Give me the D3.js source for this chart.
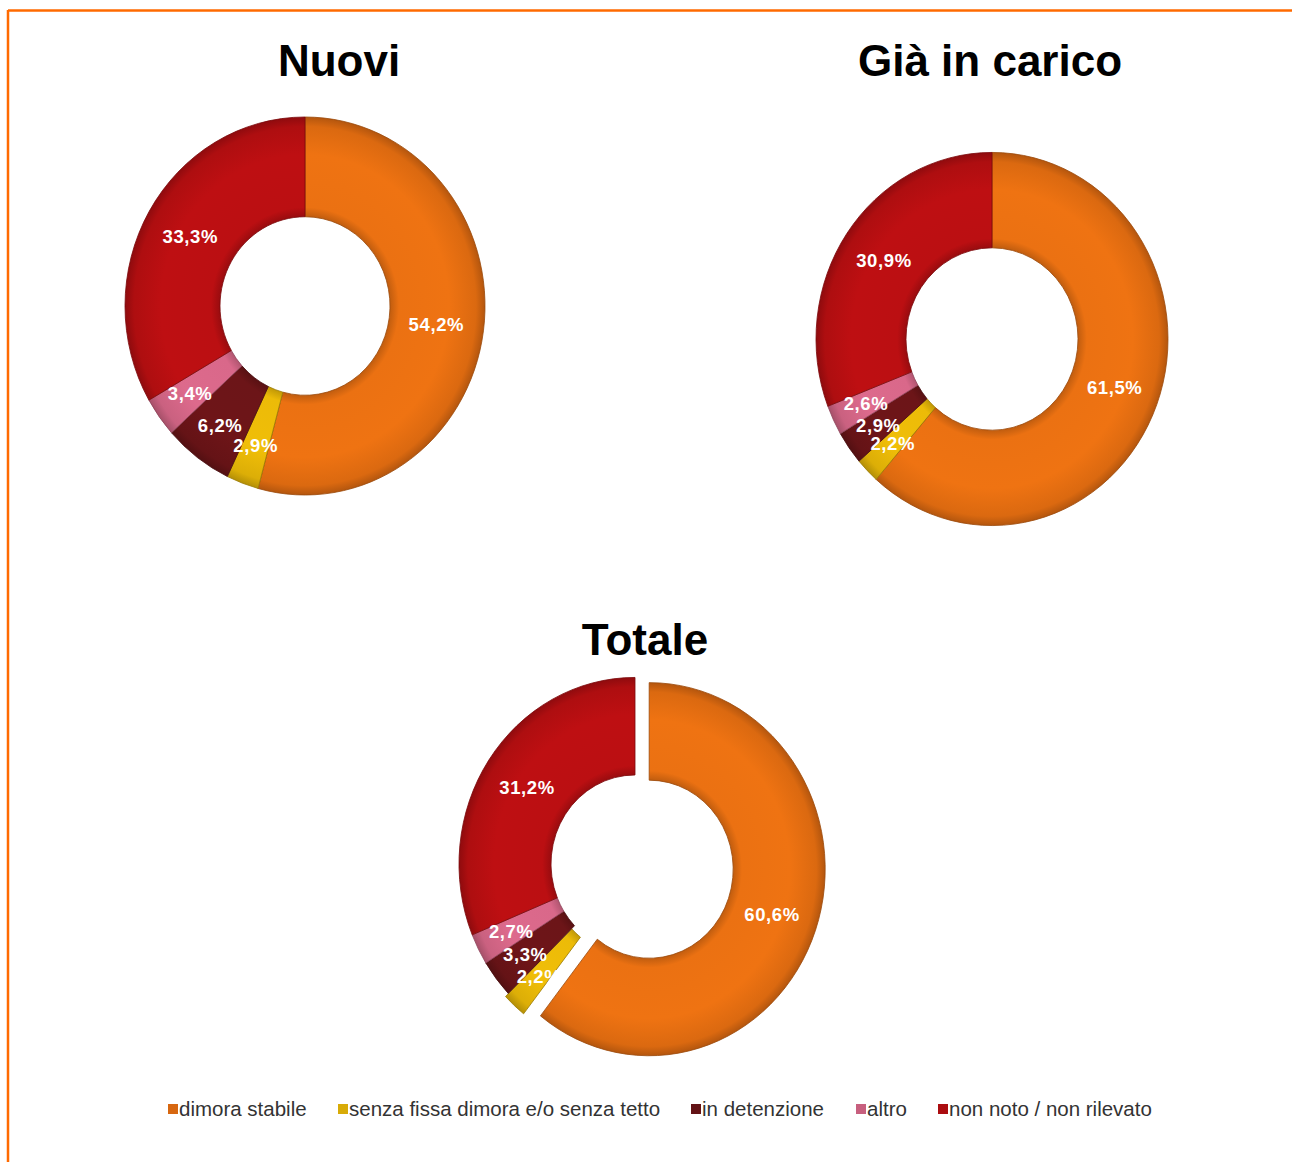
<!DOCTYPE html>
<html>
<head>
<meta charset="utf-8">
<script src="https://cdn.jsdelivr.net/npm/d3@7"></script>
<style>
  html, body { margin: 0; padding: 0; background: #fff; }
  svg { display: block; }
</style>
</head>
<body>
<svg id="chart" width="1292" height="1162"></svg>
<script>
// ---- data ----
const categories = ["dimora stabile", "senza fissa dimora e/o senza tetto", "in detenzione", "altro", "non noto / non rilevato"];
const colors = ["#EF7312", "#F0BE08", "#6E1518", "#DD6A8C", "#BE0F12"];
const chartTitles = ["Nuovi", "Già in carico", "Totale"];
const valuesNuovi = [54.2, 2.9, 6.2, 3.4, 33.3];
const valuesGia = [61.5, 2.2, 2.9, 2.6, 30.9];
const valuesTotale = [60.6, 2.2, 3.3, 2.7, 31.2];

const fmt = v => d3.format(".1f")(v).replace(".", ",") + "%";

const svg = d3.select("#chart");
const defs = svg.append("defs");

// frame lines (top and left)
svg.append("line").attr("x1", 8).attr("x2", 1292).attr("y1", 10.5).attr("y2", 10.5)
  .attr("stroke", "#FF6A00").attr("stroke-width", 2.5);
svg.append("line").attr("x1", 8).attr("x2", 8).attr("y1", 10).attr("y2", 1162)
  .attr("stroke", "#FF6A00").attr("stroke-width", 2.5);

const donuts = [
  { title: chartTitles[0], values: valuesNuovi, cx: 305, cy: 306, ro: 180, ri: 85, sy: 1.05, tx: 339, ty: 76, explode: [0, 0, 0, 0, 0] },
  { title: chartTitles[1], values: valuesGia, cx: 992, cy: 339, ro: 176, ri: 86, sy: 1.06, tx: 990, ty: 76, explode: [0, 0, 0, 0, 0] },
  { title: chartTitles[2], values: valuesTotale, cx: 635, cy: 864, ro: 176, ri: 84, sy: 1.06, tx: 645, ty: 655, explode: [15, 4, 0, 0, 0] }
];

const pie = d3.pie().sort(null).value(d => d).startAngle(0).endAngle(2 * Math.PI);

donuts.forEach((dn, di) => {
  // gradients per colour for bevel look
  colors.forEach((c, ci) => {
    const base = d3.color(c);
    const g = defs.append("radialGradient")
      .attr("id", `g${di}_${ci}`)
      .attr("gradientUnits", "userSpaceOnUse")
      .attr("cx", 0).attr("cy", 0).attr("r", dn.ro);
    const f = dn.ri / dn.ro;
    g.append("stop").attr("offset", f).attr("stop-color", base.darker(0.6));
    g.append("stop").attr("offset", f + 0.05).attr("stop-color", base.darker(0.05));
    g.append("stop").attr("offset", 0.8).attr("stop-color", base);
    g.append("stop").attr("offset", 0.95).attr("stop-color", base.darker(0.25));
    g.append("stop").attr("offset", 1).attr("stop-color", base.darker(0.8));
  });

  svg.append("text")
    .attr("x", dn.tx).attr("y", dn.ty)
    .attr("text-anchor", "middle")
    .attr("font-family", "'Liberation Sans', Arial, sans-serif")
    .attr("font-weight", "bold")
    .attr("font-size", 44)
    .attr("fill", "#000")
    .text(dn.title);

  const arcs = pie(dn.values);
  const arc = d3.arc().innerRadius(dn.ri).outerRadius(dn.ro);
  const midR = (dn.ri + dn.ro) / 2;
  const smallR = dn.ri + (dn.ro - dn.ri) * 0.6;
  const labelArc = d3.arc().innerRadius(midR).outerRadius(midR);
  const smallArc = d3.arc().innerRadius(smallR).outerRadius(smallR);
  const centroid = d => (d.data < 10 ? smallArc : labelArc).centroid(d);

  const g = svg.append("g").attr("transform", `translate(${dn.cx},${dn.cy})`);
  const ring = g.append("g").attr("transform", `scale(1,${dn.sy})`);

  const offset = (d, i) => {
    const mid = (d.startAngle + d.endAngle) / 2;
    const e = dn.explode[i];
    return [Math.sin(mid) * e, -Math.cos(mid) * e];
  };

  ring.selectAll("path")
    .data(arcs)
    .join("path")
    .attr("transform", (d, i) => { const o = offset(d, i); return `translate(${o[0]},${o[1]})`; })
    .attr("d", arc)
    .attr("fill", (d, i) => `url(#g${di}_${i})`)
    .attr("stroke", (d, i) => d3.color(colors[i]).darker(1.2))
    .attr("stroke-width", 0.8);

  g.selectAll("text.lbl")
    .data(arcs)
    .join("text")
    .attr("class", "lbl")
    .attr("x", (d, i) => centroid(d)[0] + offset(d, i)[0])
    .attr("y", (d, i) => (centroid(d)[1] + offset(d, i)[1]) * dn.sy)
    .attr("dy", "0.35em")
    .attr("text-anchor", "middle")
    .attr("font-family", "'Liberation Sans', Arial, sans-serif")
    .attr("font-weight", "bold")
    .attr("font-size", 18.5)
    .attr("letter-spacing", 0.6)
    .attr("fill", "#fff")
    .text(d => fmt(d.data));
});

// legend
const legendX = [168, 338, 691, 856, 938];
const legend = svg.append("g").attr("transform", "translate(0,1110)");
categories.forEach((c, i) => {
  legend.append("rect")
    .attr("x", legendX[i]).attr("y", -6).attr("width", 10).attr("height", 10)
    .attr("fill", d3.color(colors[i]).darker(0.3));
  legend.append("text")
    .attr("x", legendX[i] + 11).attr("y", 6)
    .attr("font-family", "'Liberation Sans', Arial, sans-serif")
    .attr("font-size", 20.5)
    .attr("fill", "#333")
    .text(c);
});
</script>
</body>
</html>
